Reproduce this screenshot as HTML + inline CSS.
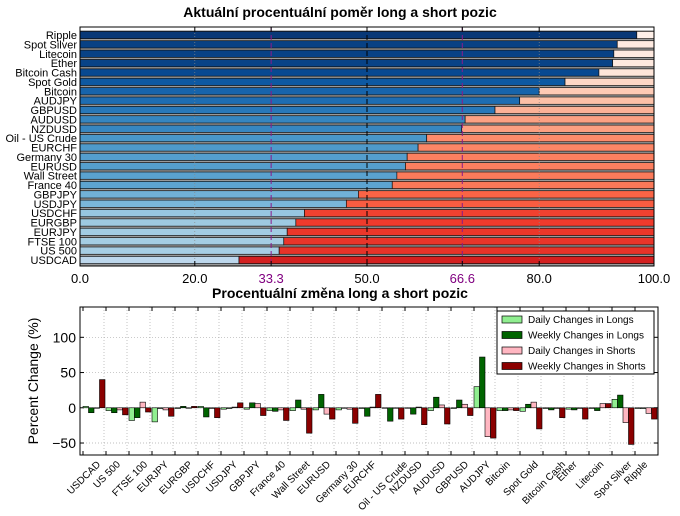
<!DOCTYPE html>
<html><head><meta charset="utf-8"><style>
body{margin:0;background:#fff;}
svg{display:block;font-family:"Liberation Sans","DejaVu Sans",sans-serif;}
</style></head><body>
<svg id="c" width="680" height="516" viewBox="0 0 680 516"></svg>
<script>
const topCats=["USDCAD","US 500","FTSE 100","EURJPY","EURGBP","USDCHF","USDJPY","GBPJPY","France 40","Wall Street","EURUSD","Germany 30","EURCHF","Oil - US Crude","NZDUSD","AUDUSD","GBPUSD","AUDJPY","Bitcoin","Spot Gold","Bitcoin Cash","Ether","Litecoin","Spot Silver","Ripple"];
const longPct=[27.7,34.7,35.5,36.1,37.6,39.1,46.4,48.5,54.4,55.2,56.7,57.0,58.9,60.4,66.5,67.1,72.3,76.6,80.0,84.5,90.4,92.8,93.0,93.6,97.0];
const topTicks=[0,20,33.3,50,66.6,80,100];
const topTickLabels=["0.0","20.0","33.3","50.0","66.6","80.0","100.0"];
const dailyLongs=[2,-4,-18,-20,-1,2,-2,-2,-4,-4,-3,-3,-1,0,0,-4,-1,30,-4,-5,-1,-2,-1,12,-1];
const weeklyLongs=[-7,-7,-14,-1,2,-13,-1,7,-5,11,19,0,-12,-19,-9,15,11,72,-4,5,-3,-3,-4,18,-1];
const dailyShorts=[0,-3,8,-3,0,-1,1,6,-3,-2,-9,-2,1,0,1,4,5,-41,-3,8,-1,-1,6,-21,-8];
const weeklyShorts=[40,-10,-6,-12,2,-14,7,-11,-18,-36,-16,-22,19,-16,-24,-23,-11,-43,-4,-30,-14,-16,6,-52,-16];
const yTicks=[-50,0,50,100];

const svg=document.getElementById('c');const NS='http://www.w3.org/2000/svg';
function mk(t,a,p){const e=document.createElementNS(NS,t);for(const k in a)e.setAttribute(k,a[k]);(p||svg).appendChild(e);return e;}
function hex(h){return [1,3,5].map(i=>parseInt(h.substr(i,2),16));}
function cmap(stops,t){t=Math.max(0,Math.min(1,t));const n=stops.length-1,f=t*n,i=Math.min(n-1,Math.floor(f)),r=f-i;const a=hex(stops[i]),b=hex(stops[i+1]);return 'rgb('+a.map((v,k)=>Math.round(v+(b[k]-v)*r)).join(',')+')';}
const BLUES=["#f7fbff","#deebf7","#c6dbef","#9ecae1","#6baed6","#4292c6","#2171b5","#08519c","#08306b"];
const REDS=["#fff5f0","#fee0d2","#fcbba1","#fc9272","#fb6a4a","#ef3b2c","#cb181d","#a50f15","#67000d"];

// ---- top chart
const L=80,R=654,T=27,B=266;
const xs=v=>L+(v/100)*(R-L);
const pitch=9.375;const yc=i=>260-i*pitch;
let t=mk('text',{x:340,y:17,'text-anchor':'middle','font-size':14,'font-weight':'bold'});t.textContent='Aktuální procentuální poměr long a short pozic';

let bg=mk('rect',{x:L,y:yc(24)-pitch/2,width:R-L,height:B-(yc(24)-pitch/2),fill:'#9a9a9a'});

topCats.forEach((c,i)=>{
  const v=longPct[i],h=pitch*0.78,y=yc(i)-h/2;
  const b=mk('rect',{x:xs(0),y:y,width:xs(v)-xs(0),height:h,fill:cmap(BLUES,v/100),stroke:'#111','stroke-width':0.7});
  
  const s=mk('rect',{x:xs(v),y:y,width:xs(100)-xs(v),height:h,fill:cmap(REDS,(100-v)/100),stroke:'#111','stroke-width':0.7});
  
  const lb=mk('text',{x:L-3,y:yc(i)+4,'text-anchor':'end','font-size':11});lb.textContent=c;
  
});
topTicks.forEach((v,k)=>{
  const purple=(v===33.3||v===66.6);
  const g=mk('line',{x1:xs(v),x2:xs(v),y1:T,y2:B,stroke:purple?'#8b1a8b':(v===50?'#000':'#888'),'stroke-width':purple||v===50?1:0.7,'stroke-dasharray':purple||v===50?'5,3':'1,2'});
  
  mk('line',{x1:xs(v),x2:xs(v),y1:T,y2:T+5,stroke:'#000'});mk('line',{x1:xs(v),x2:xs(v),y1:B,y2:B-5,stroke:'#000'});
  const tl=mk('text',{x:xs(v),y:283,'text-anchor':'middle','font-size':13,fill:purple?'#800080':'#000'});tl.textContent=topTickLabels[k];
  
});
let fr=mk('rect',{x:L,y:T,width:R-L,height:B-T,fill:'none',stroke:'#000','stroke-width':1});


// ---- bottom chart
const L2=80,R2=658,T2=307,B2=455,YMIN=-67,YMAX=143;
const ys=v=>B2-(v-YMIN)/(YMAX-YMIN)*(B2-T2);
const tx=i=>83+i*23;
t=mk('text',{x:340,y:298,'text-anchor':'middle','font-size':14,'font-weight':'bold'});t.textContent='Procentuální změna long a short pozic';

yTicks.forEach(v=>{
  const g=mk('line',{x1:L2,x2:R2,y1:ys(v),y2:ys(v),stroke:'#aaa','stroke-width':0.7,'stroke-dasharray':'1,2'});
  
  mk('line',{x1:L2,x2:L2+4,y1:ys(v),y2:ys(v),stroke:'#000'});mk('line',{x1:R2,x2:R2-4,y1:ys(v),y2:ys(v),stroke:'#000'});
  const tl=mk('text',{x:L2-4,y:ys(v)+5,'text-anchor':'end','font-size':14});tl.textContent=v<0?'\u2212'+(-v):String(v);
  
});
const yt=mk('text',{x:0,y:0,'text-anchor':'middle','font-size':14,transform:'translate(38,381) rotate(-90)'});yt.textContent='Percent Change (%)';

topCats.forEach((c,i)=>{
  if(i>0){const g=mk('line',{x1:tx(i)-2,x2:tx(i)-2,y1:T2,y2:B2,stroke:'#aaa','stroke-width':0.7,'stroke-dasharray':'1,2'});
  }
});
const series=[[dailyLongs,'#90ee90','daily-long'],[weeklyLongs,'#006400','weekly-long'],[dailyShorts,'#ffb6c1','daily-short'],[weeklyShorts,'#8b0000','weekly-short']];
topCats.forEach((c,i)=>{
  mk('line',{x1:tx(i),x2:tx(i),y1:B2,y2:B2-4,stroke:'#000'});mk('line',{x1:tx(i),x2:tx(i),y1:T2,y2:T2+4,stroke:'#000'});
  series.forEach((s,k)=>{
    const v=s[0][i];const y0=ys(0),y1=ys(v);
    const b=mk('rect',{x:tx(i)+k*5.5,y:Math.min(y0,y1),width:5.5,height:Math.max(0.5,Math.abs(y1-y0)),fill:s[1],stroke:'#000','stroke-width':0.6});
    
  });
  const lb=mk('text',{x:0,y:0,'text-anchor':'end','font-size':10});lb.textContent=c;
  
  const w=lb.getComputedTextLength();const ex=tx(i)+w*0.707/2+3,ey=465;
  lb.setAttribute('transform','translate('+ex+','+ey+') rotate(-45)');
});
fr=mk('rect',{x:L2,y:T2,width:R2-L2,height:B2-T2,fill:'none',stroke:'#000','stroke-width':1});

// legend
const lg=mk('g',{});
mk('rect',{x:497,y:311,width:157,height:63,fill:'#fff',stroke:'#000','stroke-width':1},lg);
const names=['Daily Changes in Longs','Weekly Changes in Longs','Daily Changes in Shorts','Weekly Changes in Shorts'];
series.forEach((s,k)=>{
  const y=316+k*15.5;
  mk('rect',{x:502,y:y,width:20,height:7,fill:s[1],stroke:'#000','stroke-width':0.7},lg);
  const tt=mk('text',{x:528,y:y+7,'font-size':10},lg);tt.textContent=names[k];
  
});
</script>
</body></html>
